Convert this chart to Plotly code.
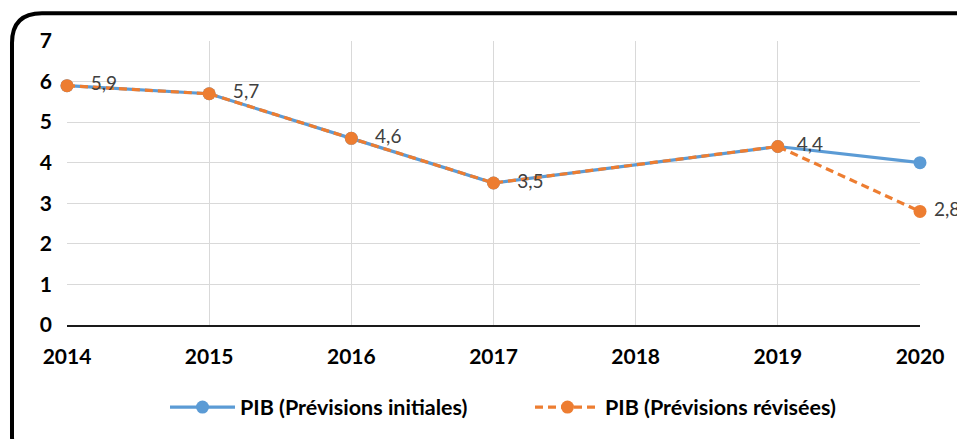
import plotly.graph_objects as go

years = [2014, 2015, 2016, 2017, 2018, 2019, 2020]
initiales = [5.9, 5.7, 4.6, 3.5, None, 4.4, 4.0]
revisees = [5.9, 5.7, 4.6, 3.5, None, 4.4, 2.8]
labels_rev = ["5,9", "5,7", "4,6", "3,5", "", "4,4", "2,8"]
yticks = [0, 1, 2, 3, 4, 5, 6, 7]

BLUE = "#5B9BD5"
ORANGE = "#ED7D31"
FONT = "Lato"

# page offset (body margin) compensation; keep page free of scrollbars
OFF = 8
W, H = 965 - OFF, 447 - 2 * OFF
L, T = 67 - OFF, 41 - OFF
R = W - (920 - OFF)
B = H - (328 - OFF)
PW, PH = W - L - R, H - T - B

label_tpl = ["   %{text}"] * 5 + ["  %{text}", " %{text}"]

fig = go.Figure()
fig.add_trace(go.Scatter(
    x=years, y=initiales, mode="lines+markers", connectgaps=True,
    name="PIB (Prévisions initiales)",
    line=dict(color=BLUE, width=3.2),
    marker=dict(color=BLUE, size=13),
    cliponaxis=False,
))
fig.add_trace(go.Scatter(
    x=years, y=revisees, mode="lines+markers+text", connectgaps=True,
    name="PIB (Prévisions révisées)",
    line=dict(color=ORANGE, width=3.2, dash="8px,5px"),
    marker=dict(color=ORANGE, size=13),
    text=labels_rev, texttemplate=label_tpl, textposition="middle right",
    textfont=dict(family=FONT, size=19, color="#404040"),
    cliponaxis=False,
))

def px2paper(px, py):
    return (px - OFF - L) / PW, (H - B - (py - OFF)) / PH

def P(px, py):
    x, y = px2paper(px, py)
    return f"{x:.5f},{y:.5f}"

# rounded frame (partly outside the view, as in the reference), page px coords
x0, y0, x1, y1, rad = 12, 13, 985, 470, 30
path = (f"M {P(x0 + rad, y0)} L {P(x1 - rad, y0)} Q {P(x1, y0)} {P(x1, y0 + rad)} "
        f"L {P(x1, y1 - rad)} Q {P(x1, y1)} {P(x1 - rad, y1)} "
        f"L {P(x0 + rad, y1)} Q {P(x0, y1)} {P(x0, y1 - rad)} "
        f"L {P(x0, y0 + rad)} Q {P(x0, y0)} {P(x0 + rad, y0)} Z")
fig.add_shape(type="path", path=path, xref="paper", yref="paper",
              line=dict(color="black", width=4), layer="below")

lx, _ = px2paper(165, 0)
_, ly = px2paper(0, 411)

fig.update_layout(
    width=W, height=H,
    margin=dict(l=L, r=R, t=T, b=B),
    paper_bgcolor="white", plot_bgcolor="white",
    font=dict(family=FONT, color="black"),
    showlegend=True,
    legend=dict(orientation="h", x=lx, xanchor="left", y=ly, yanchor="middle",
                font=dict(family=FONT, size=21.5, color="black", weight="bold"),
                itemwidth=65, entrywidth=285),
    xaxis=dict(range=[2014, 2020], tickvals=years, ticktext=[str(y) for y in years],
               showgrid=True, gridcolor="#D9D9D9", gridwidth=1.3,
               showline=True, linecolor="#1a1a1a", linewidth=2,
               zeroline=False, ticks="", ticklabelstandoff=12,
               tickfont=dict(family=FONT, size=21, color="black", weight="bold")),
    yaxis=dict(range=[0, 7], tickvals=yticks, ticktext=[str(v) for v in yticks],
               showgrid=True, gridcolor="#D9D9D9", gridwidth=1.3,
               zeroline=False, showline=False, ticks="", ticklabelstandoff=14,
               tickfont=dict(family=FONT, size=21, color="black", weight="bold")),
)

fig.write_html("out.html")
